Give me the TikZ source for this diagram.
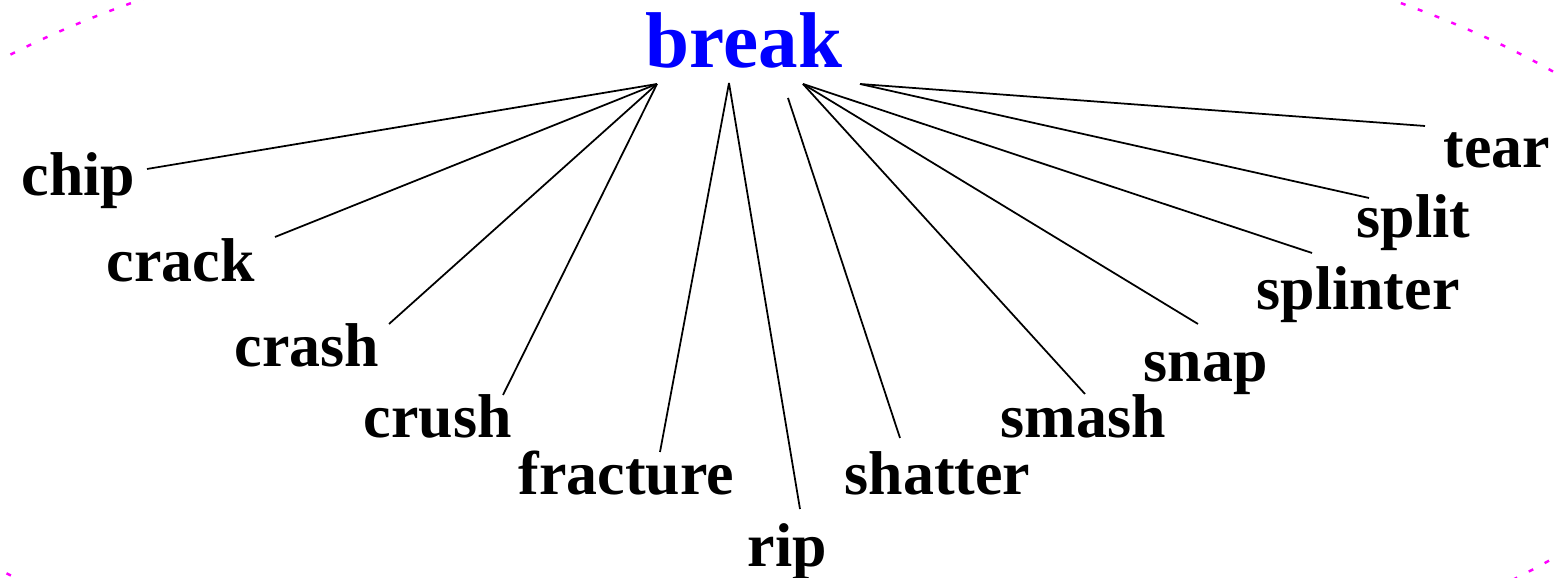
\documentclass[tikz,border=0pt]{standalone}
\usepackage{fontspec}
\setmainfont{Liberation Serif}
\definecolor{rimpink}{RGB}{255,0,255}
\begin{document}
\begin{tikzpicture}[
    word/.style={inner sep=0pt, anchor=base west, font=\fontsize{17.6}{17.6}\selectfont\bfseries},
    head/.style={inner sep=0pt, anchor=base west, text=blue, font=\fontsize{22.5}{22.5}\selectfont\bfseries},
    spoke/.style={line width=0.5pt}]
            \useasboundingbox (0,0) rectangle (15.55,5.78);
            \clip (0,0) rectangle (15.55,5.78);
            \draw[rimpink, line width=0.7pt, dash pattern=on 0.05cm off 0.13cm] (7.66,2.63) ellipse (9.78 and 4.10);
            \node[head] (break) at (6.45,5.10) {break};
            \coordinate (hubL) at ([shift={(0.12,-0.16)}]break.base west);
            \coordinate (hubM) at ([shift={(0.84,-0.15)}]break.base west);
            \coordinate (hubS) at ([shift={(1.43,-0.30)}]break.base west);
            \coordinate (hubR) at ([shift={(1.58,-0.16)}]break.base west);
            \coordinate (hubT) at ([shift={(2.15,-0.16)}]break.base west);
            \node[word] (chip) at (0.21,3.82) {chip};
            \node[word] (crack) at (1.06,2.96) {crack};
            \node[word] (crash) at (2.34,2.11) {crash};
            \node[word] (crush) at (3.63,1.40) {crush};
            \node[word] (fracture) at (5.18,0.83) {fracture};
            \node[word] (rip) at (7.47,0.11) {rip};
            \node[word] (shatter) at (8.44,0.83) {shatter};
            \node[word] (smash) at (10.00,1.40) {smash};
            \node[word] (snap) at (11.43,1.96) {snap};
            \node[word] (splinter) at (12.56,2.68) {splinter};
            \node[word] (split) at (13.56,3.40) {split};
            \node[word] (tear) at (14.43,4.10) {tear};
            \draw[spoke] (hubL) -- ([shift={(1.26,0.27)}]chip.base west);
            \draw[spoke] (hubL) -- ([shift={(1.69,0.45)}]crack.base west);
            \draw[spoke] (hubL) -- ([shift={(1.55,0.43)}]crash.base west);
            \draw[spoke] (hubL) -- ([shift={(1.40,0.43)}]crush.base west);
            \draw[spoke] (hubM) -- ([shift={(1.42,0.43)}]fracture.base west);
            \draw[spoke] (hubM) -- ([shift={(0.53,0.58)}]rip.base west);
            \draw[spoke] (hubS) -- ([shift={(0.56,0.57)}]shatter.base west);
            \draw[spoke] (hubR) -- ([shift={(0.85,0.44)}]smash.base west);
            \draw[spoke] (hubR) -- ([shift={(0.55,0.58)}]snap.base west);
            \draw[spoke] (hubR) -- ([shift={(0.56,0.57)}]splinter.base west);
            \draw[spoke] (hubT) -- ([shift={(0.13,0.40)}]split.base west);
            \draw[spoke] (hubT) -- ([shift={(-0.18,0.42)}]tear.base west);
\end{tikzpicture}
\end{document}
